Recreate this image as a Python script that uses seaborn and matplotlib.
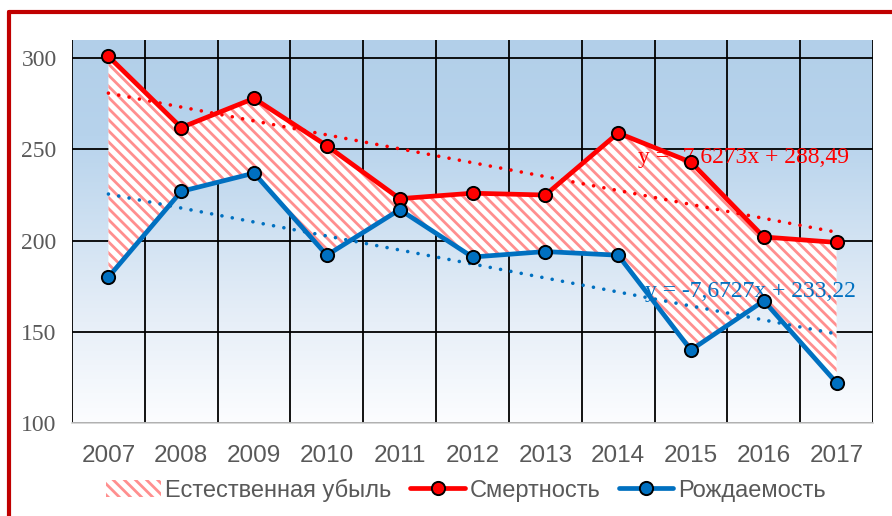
import numpy as np
import pandas as pd
import matplotlib
matplotlib.use('Agg')
import matplotlib.pyplot as plt
import seaborn as sns
from matplotlib.colors import LinearSegmentedColormap
from matplotlib.lines import Line2D
from matplotlib.patches import Patch

# данные
years = [2007, 2008, 2009, 2010, 2011, 2012, 2013, 2014, 2015, 2016, 2017]
deaths = [301, 262, 278, 252, 223, 226, 225, 259, 243, 202, 199]
births = [180, 227, 237, 192, 217, 191, 194, 192, 140, 167, 122]
y_ticks = [100, 150, 200, 250, 300]

RED = '#ff0000'
BLUE = '#0070c0'
HATCH = '#ff8f8f'
TXT = '#595959'

sns.set_style('white')
plt.rcParams['font.family'] = ['Liberation Sans', 'DejaVu Sans']
plt.rcParams['hatch.linewidth'] = 2.0

df = pd.DataFrame({
    'year': years * 2,
    'value': deaths + births,
    'series': ['Смертность'] * len(years) + ['Рождаемость'] * len(years),
})

fig = plt.figure(figsize=(8.92, 5.16), dpi=100)
ax = fig.add_axes([72 / 892, 1 - 423 / 516, 801 / 892, 383 / 516])

ax.set_xlim(2006.5, 2017.5)
ax.set_ylim(100, 310)

# фон с градиентом
grad = LinearSegmentedColormap.from_list(
    'bg', [(0, '#fcfdff'), (0.3, '#e4edf7'), (0.75, '#b7d3ec'), (1, '#b2cfe9')])
ax.imshow(np.linspace(0, 1, 256).reshape(-1, 1), cmap=grad, aspect='auto',
          extent=[2006.5, 2017.5, 100, 310], origin='lower', zorder=0)

# сетка
ax.set_xticks(years)
ax.set_xticks([y - 0.5 for y in years] + [years[-1] + 0.5], minor=True)
ax.set_yticks(y_ticks)
ax.grid(False)
ax.grid(True, which='minor', axis='x', color='black', linewidth=1.3, zorder=0.5)
ax.grid(True, which='major', axis='y', color='black', linewidth=1.3, zorder=0.5)
ax.set_axisbelow(True)
for s in ['top', 'right', 'left']:
    ax.spines[s].set_visible(False)
ax.spines['bottom'].set_color('#d0d0d0')
ax.spines['bottom'].set_linewidth(1.2)
ax.tick_params(which='both', length=0)
ax.tick_params(axis='y', pad=11, labelsize=17, labelcolor=TXT)
ax.tick_params(axis='x', pad=16, labelsize=17.5, labelcolor=TXT)
for lbl in ax.get_yticklabels():
    lbl.set_family('Liberation Serif')

# естественная убыль
ax.fill_between(years, deaths, births, facecolor='white', edgecolor=HATCH,
                hatch='\\\\\\', linewidth=0, zorder=1)

# линии тренда
x_idx = np.arange(1, len(years) + 1)
for vals, col, tx, ty in [(deaths, RED, 2014.27, 245.5), (births, BLUE, 2014.37, 172.2)]:
    k, b = np.polyfit(x_idx, vals, 1)
    ax.plot(years, k * x_idx + b, color=col, linewidth=2.6,
            linestyle=(0, (0.01, 2.9)), dash_capstyle='round', zorder=2)
    eq = f'y = {k:.4f}x + {b:.2f}'.replace('.', ',')
    ax.text(tx, ty, eq, color=col, fontsize=17, family='Liberation Serif',
            ha='left', va='center', zorder=2.5)

sns.lineplot(data=df, x='year', y='value', hue='series', ax=ax,
             palette={'Смертность': RED, 'Рождаемость': BLUE},
             marker='o', markersize=9.5, markeredgecolor='black',
             markeredgewidth=1.4, linewidth=3.4, legend=False, zorder=3)
ax.set_xlabel('')
ax.set_ylabel('')

handles = [
    Patch(facecolor='white', edgecolor=HATCH, hatch='\\\\\\', linewidth=0,
          label='Естественная убыль'),
    Line2D([], [], color=RED, linewidth=3.4, marker='o', markersize=9.5,
           markeredgecolor='black', markeredgewidth=1.4, label='Смертность'),
    Line2D([], [], color=BLUE, linewidth=3.4, marker='o', markersize=9.5,
           markeredgecolor='black', markeredgewidth=1.4, label='Рождаемость'),
]
fig.legend(handles=handles, loc='center', bbox_to_anchor=(466 / 892, 1 - 490 / 516),
           ncol=3, frameon=False, fontsize=17, labelcolor=TXT,
           handlelength=2.3, handletextpad=0.2, columnspacing=0.8)

# красная рамка
fig.add_artist(Line2D([9 / 892, 9 / 892], [0, 1 - 12 / 516], color='#c00000',
                      linewidth=3, transform=fig.transFigure))
fig.add_artist(Line2D([9 / 892, 1], [1 - 12 / 516, 1 - 12 / 516], color='#c00000',
                      linewidth=3, transform=fig.transFigure))

fig.savefig('out.png', dpi=100, facecolor='white')
plt.close(fig)
